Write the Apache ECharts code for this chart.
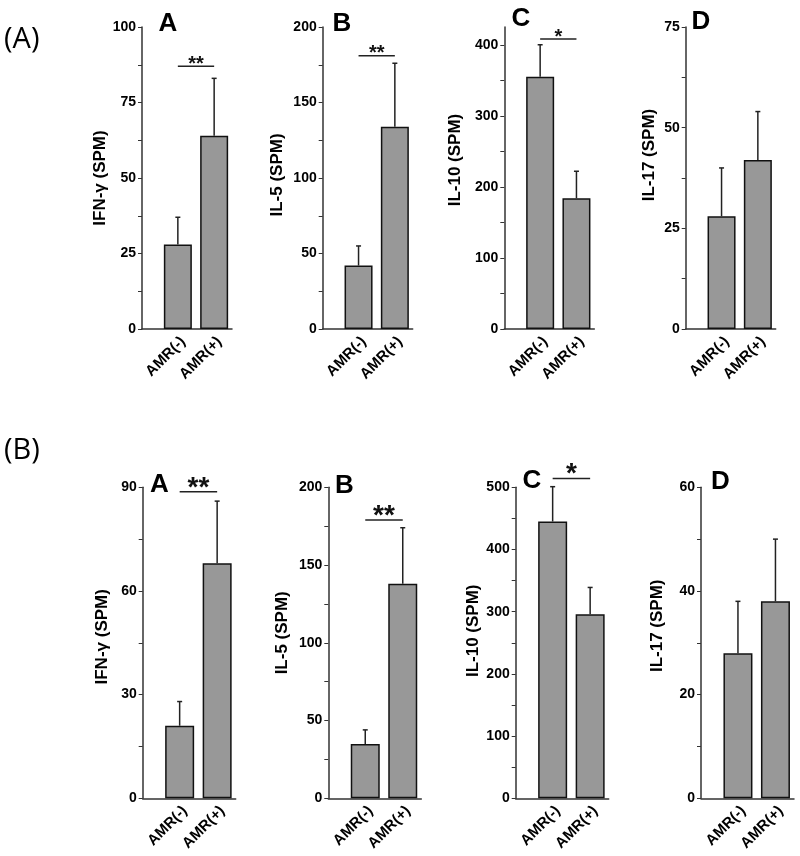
<!DOCTYPE html>
<html><head><meta charset="utf-8">
<script src="https://cdn.jsdelivr.net/npm/echarts@6/dist/echarts.min.js"></script>
<style>html,body{margin:0;padding:0;background:#fff}#c{width:800px;height:856px}</style>
</head><body><div id="c"></div>
<script>
// ---------------- DATA ----------------
const categories = ['AMR(-)', 'AMR(+)'];
const cytokineNames = ['IFN-γ (SPM)', 'IL-5 (SPM)', 'IL-10 (SPM)', 'IL-17 (SPM)'];
const panelLetters = ['A', 'B', 'C', 'D'];
const sectionLabels = ['(A)', '(B)'];

// Section (A): means and error (SD) per panel
const secA_ifn_mean  = [28, 64];   const secA_ifn_err  = [9, 19];
const secA_il5_mean  = [42, 134];  const secA_il5_err  = [13, 42];
const secA_il10_mean = [355, 184]; const secA_il10_err = [45, 38];
const secA_il17_mean = [28, 42];   const secA_il17_err = [12, 12];
// Section (B)
const secB_ifn_mean  = [21, 68];   const secB_ifn_err  = [7, 18];
const secB_il5_mean  = [35, 138];  const secB_il5_err  = [9, 36];
const secB_il10_mean = [445, 296]; const secB_il10_err = [56, 43];
const secB_il17_mean = [28, 38];   const secB_il17_err = [10, 12];

// y tick labels
const secA_ifn_ticks  = [0, 25, 50, 75, 100];
const secA_il5_ticks  = [0, 50, 100, 150, 200];
const secA_il10_ticks = [0, 100, 200, 300, 400];
const secA_il17_ticks = [0, 25, 50, 75];
const secB_ifn_ticks  = [0, 30, 60, 90];
const secB_il5_ticks  = [0, 50, 100, 150, 200];
const secB_il10_ticks = [0, 100, 200, 300, 400, 500];
const secB_il17_ticks = [0, 20, 40, 60];
// axis upper ends
const secA_axisMax = [100, 200, 425, 75];
const secB_axisMax = [90, 200, 500, 60];

// significance marks (label, height in data units)
const secA_sigLabels = ['**', '**', '*', null];
const secA_sigLevels = [87, 181, 408, null];
const secB_sigLabels = ['**', '**', '*', null];
const secB_sigLevels = [88.7, 179, 514, null];

// ---------------- LAYOUT / STYLE ----------------
const FONT = '"Liberation Sans", Arial, sans-serif';
const rows = [
  { top: 27, height: 302, axisX: [142, 322.7, 504.3, 685.7], innerOff: 17.7, innerW: 72.6, outerW: 90, barW: 28, starSize: 20, starOff: -2,
    nameGap: [33, 37, 40, 28], nameShift: [0, 3, 18, 23],
    letterPos: [[158.5, 10.5], [332.5, 10.5], [511.5, 5.5], [691.5, 8.5]], secPos: [4, 25],
    means: [secA_ifn_mean, secA_il5_mean, secA_il10_mean, secA_il17_mean],
    errs: [secA_ifn_err, secA_il5_err, secA_il10_err, secA_il17_err],
    ticks: [secA_ifn_ticks, secA_il5_ticks, secA_il10_ticks, secA_il17_ticks],
    max: secA_axisMax, sigL: secA_sigLabels, sigV: secA_sigLevels },
  { top: 487.3, height: 311, axisX: [142.7, 328.3, 515.7, 701], innerOff: 18.2, innerW: 75, outerW: 93, barW: 29, starSize: 28, starOff: -4,
    nameGap: [32, 37, 34, 35], nameShift: [6, 10, 12, 17],
    letterPos: [[150, 472], [335, 472.5], [522.5, 467.5], [711, 468.5]], secPos: [4, 436],
    means: [secB_ifn_mean, secB_il5_mean, secB_il10_mean, secB_il17_mean],
    errs: [secB_ifn_err, secB_il5_err, secB_il10_err, secB_il17_err],
    ticks: [secB_ifn_ticks, secB_il5_ticks, secB_il10_ticks, secB_il17_ticks],
    max: secB_axisMax, sigL: secB_sigLabels, sigV: secB_sigLevels }
];

const grid = [], xAxis = [], yAxis = [], series = [], title = [];
let gi = 0;
rows.forEach((r, ri) => {
  title.push({ text: sectionLabels[ri], left: r.secPos[0], top: r.secPos[1], padding: 0,
    textStyle: { fontFamily: '"Open Sans", "Noto Sans", sans-serif', fontWeight: 'normal', fontSize: 29, color: '#000' } });
  for (let p = 0; p < 4; p++) {
    const ax = r.axisX[p];
    const tks = r.ticks[p];
    const tickVals = [];
    for (let i = 0; i < tks.length; i++) {
      tickVals.push(tks[i]);
      if (i < tks.length - 1) tickVals.push((tks[i] + tks[i + 1]) / 2);
    }
    title.push({ text: panelLetters[p], left: r.letterPos[p][0], top: r.letterPos[p][1], padding: 0,
      textStyle: { fontFamily: FONT, fontWeight: 'bold', fontSize: 26, color: '#000' } });
    // outer grid: visible y axis and x axis line
    const og = gi++;
    grid.push({ left: ax, top: r.top, width: r.outerW, height: r.height });
    xAxis.push({ gridIndex: og, type: 'value', min: 0, max: 1,
      axisLine: { show: true, lineStyle: { color: '#333', width: 1.5 } },
      axisTick: { show: false }, axisLabel: { show: false }, splitLine: { show: false } });
    yAxis.push({ gridIndex: og, type: 'value', min: 0, max: r.max[p],
      axisLine: { show: true, lineStyle: { color: '#333', width: 1.5 } },
      axisTick: { show: true, inside: false, length: 4, customValues: tickVals, lineStyle: { color: '#333', width: 1 } },
      axisLabel: { customValues: tks, fontFamily: FONT, fontWeight: 'bold', fontSize: 14, color: '#000', margin: 6 },
      splitLine: { show: false },
      name: cytokineNames[p], nameLocation: 'middle', nameGap: r.nameGap[p], nameRotate: 90,
      nameTextStyle: { fontFamily: FONT, fontWeight: 'bold', fontSize: 17, color: '#000', padding: [0, 0, 0, 2 * r.nameShift[p]] } });
    // inner grid: bars
    const ig = gi++;
    grid.push({ left: ax + r.innerOff, top: r.top, width: r.innerW, height: r.height });
    xAxis.push({ gridIndex: ig, type: 'category', data: categories,
      axisLine: { show: false }, axisTick: { show: false },
      axisLabel: { interval: 0, rotate: 45, fontFamily: FONT, fontWeight: 'bold', fontSize: 15, color: '#000', margin: 5, verticalAlign: 'top' } });
    yAxis.push({ gridIndex: ig, type: 'value', min: 0, max: r.max[p], show: false });

    series.push({ type: 'bar', xAxisIndex: ig, yAxisIndex: ig, data: r.means[p], barWidth: r.barW,
      itemStyle: { color: '#989898', borderColor: '#111', borderWidth: 1.5 }, silent: true, z: 2 });

    const errData = r.means[p].map((m, i) => [i, m, r.errs[p][i]]);
    series.push({ type: 'custom', xAxisIndex: ig, yAxisIndex: ig, data: errData, clip: false, z: 3,
      encode: { x: 0, y: 1 },
      renderItem: function (params, api) {
        const i = api.value(0), m = api.value(1), e = api.value(2);
        const b = api.coord([i, m]);
        const t = api.coord([i, m + e]);
        return { type: 'group', children: [
          { type: 'line', shape: { x1: b[0], y1: b[1], x2: t[0], y2: t[1] }, style: { stroke: '#222', lineWidth: 1.5 } },
          { type: 'line', shape: { x1: t[0] - 2.5, y1: t[1], x2: t[0] + 2.5, y2: t[1] }, style: { stroke: '#222', lineWidth: 1.5 } }
        ] };
      } });

    if (r.sigL[p]) {
      const lbl = r.sigL[p], ss = r.starSize, so = r.starOff;
      series.push({ type: 'custom', xAxisIndex: ig, yAxisIndex: ig, data: [[0, r.sigV[p]]], clip: false, z: 4,
        encode: { x: 0, y: 1 },
        renderItem: function (params, api) {
          const v = api.value(1);
          const a = api.coord([0, v]);
          const b = api.coord([1, v]);
          return { type: 'group', children: [
            { type: 'line', shape: { x1: a[0], y1: a[1], x2: b[0], y2: b[1] }, style: { stroke: '#222', lineWidth: 1.5 } },
            { type: 'text', style: { text: lbl, x: (a[0] + b[0]) / 2, y: a[1] + so, align: 'center', verticalAlign: 'middle',
              fontSize: ss, fontWeight: 'bold', fontFamily: FONT, fill: '#111' } }
          ] };
        } });
    }
  }
});

const chart = echarts.init(document.getElementById('c'), null, { renderer: 'canvas' });
chart.setOption({ animation: false, backgroundColor: '#fff', title, grid, xAxis, yAxis, series });
</script>
</body></html>
